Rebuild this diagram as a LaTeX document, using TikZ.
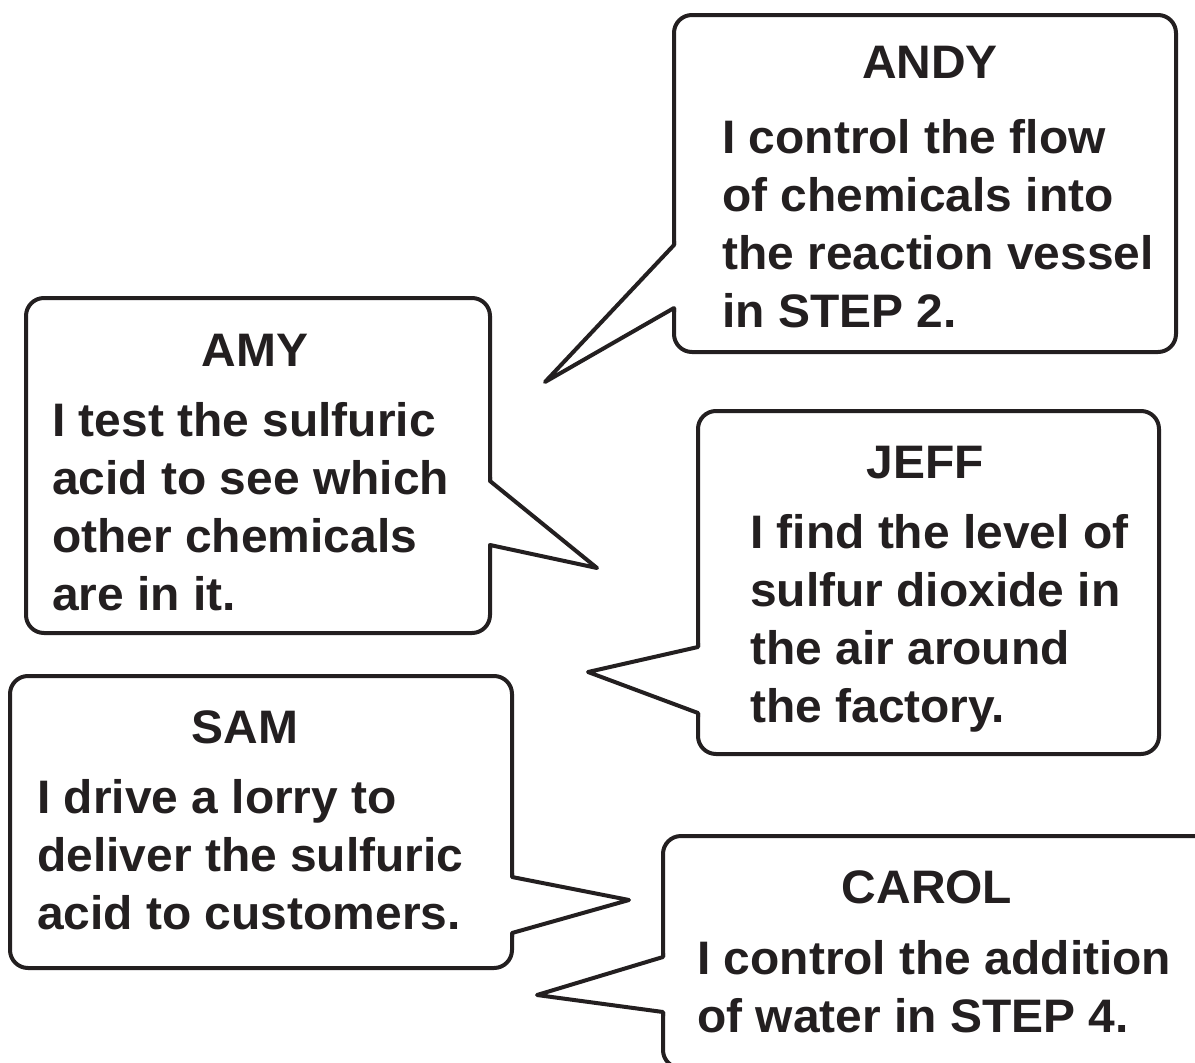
\documentclass[tikz,border=0pt]{standalone}
\usepackage{fontspec}
\setmainfont{Liberation Sans}[FakeStretch=1.02]
\definecolor{ink}{RGB}{35,31,32}
\tikzset{
  bubble/.style={draw=ink, line width=4pt, line join=round},
  boxshape/.style={draw=ink, line width=4pt, rounded corners=18pt},
  gap/.style={fill=white, draw=none},
  txt/.style={anchor=base west, inner sep=0pt, text=ink, font=\fontsize{47}{58}\selectfont\bfseries},
  ttl/.style={anchor=base, inner sep=0pt, text=ink, font=\fontsize{47}{58}\selectfont\bfseries}
}
\begin{document}
\begin{tikzpicture}[x=1pt,y=-1pt]
\useasboundingbox (0,0) rectangle (1195,1063);
\fill[white] (0,0) rectangle (1195,1063);
\clip (0,0) rectangle (1195,1063);
% ANDY bubble
\draw[boxshape] (674,15) rectangle (1176,352);
\fill[gap] (671,245) rectangle (677,308);
\draw[bubble] (674,241) -- (674,245) -- (545,382) -- (674,308) -- (674,312);
% AMY bubble
\draw[boxshape] (26,298) rectangle (490,633);
\fill[gap] (487,481) rectangle (493,545);
\draw[bubble] (490,477) -- (490,481) -- (597,568) -- (490,545) -- (490,549);
% JEFF bubble
\draw[boxshape] (698,411) rectangle (1159,754);
\fill[gap] (695,647) rectangle (701,713);
\draw[bubble] (698,643) -- (698,647) -- (588,672) -- (698,713) -- (698,717);
% SAM bubble
\draw[boxshape] (10,676) rectangle (512,968);
\fill[gap] (509,877) rectangle (515,933);
\draw[bubble] (512,873) -- (512,877) -- (629,900) -- (512,933) -- (512,937);
% CAROL bubble
\draw[boxshape] (663,836) rectangle (1215,1068);
\fill[gap] (660,957) rectangle (666,1012);
\draw[bubble] (663,953) -- (663,957) -- (537,995) -- (663,1012) -- (663,1016);
% texts
\node[ttl] (andyT) at (930,78) {ANDY};
\node[txt] (andy1) at (722,153) {I control the flow};
\node[txt] (andy2) at (722,211) {of chemicals into};
\node[txt] (andy3) at (722,269) {the reaction vessel};
\node[txt] (andy4) at (722,327) {in STEP 2.};
\node[ttl] (amyT) at (255,366) {AMY};
\node[txt] (amy1) at (52,436) {I test the sulfuric};
\node[txt] (amy2) at (52,494) {acid to see which};
\node[txt] (amy3) at (52,552) {other chemicals};
\node[txt] (amy4) at (52,610) {are in it.};
\node[ttl] (jeffT) at (925,478) {JEFF};
\node[txt] (jeff1) at (750,548) {I find the level of};
\node[txt] (jeff2) at (750,606) {sulfur dioxide in};
\node[txt] (jeff3) at (750,664) {the air around};
\node[txt] (jeff4) at (750,722) {the factory.};
\node[ttl] (samT) at (245,743) {SAM};
\node[txt] (sam1) at (37,813) {I drive a lorry to};
\node[txt] (sam2) at (37,871) {deliver the sulfuric};
\node[txt] (sam3) at (37,929) {acid to customers.};
\node[ttl] (carolT) at (927,903) {CAROL};
\node[txt] (carol1) at (697,974) {I control the addition};
\node[txt] (carol2) at (697,1032) {of water in STEP 4.};
\end{tikzpicture}
\end{document}
